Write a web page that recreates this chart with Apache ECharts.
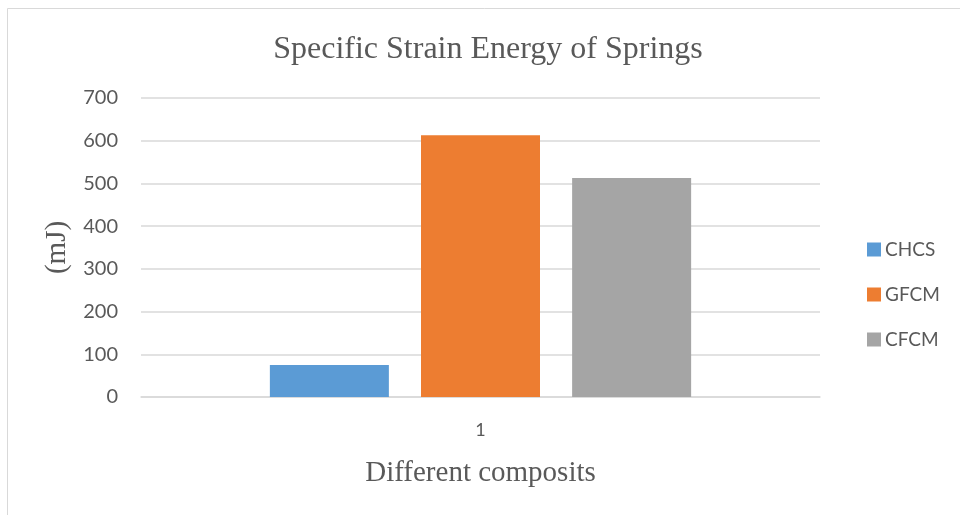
<!DOCTYPE html>
<html>
<head>
<meta charset="utf-8">
<script src="https://cdn.jsdelivr.net/npm/echarts@6/dist/echarts.min.js"></script>
<style>
html,body{margin:0;padding:0;background:#fff;}
#chart{width:960px;height:515px;}
</style>
</head>
<body>
<div id="chart"></div>
<script>
var categories = ['1'];
var seriesNames = ['CHCS', 'GFCM', 'CFCM'];
var chcsValues = [75];
var gfcmValues = [613];
var cfcmValues = [513];
var yTicks = [0, 100, 200, 300, 400, 500, 600, 700];
var colors = ['#5B9BD5', '#ED7D31', '#A5A5A5'];

var textColor = '#595959';
var chart = echarts.init(document.getElementById('chart'), null, {renderer: 'canvas'});
var allValues = [chcsValues, gfcmValues, cfcmValues];
var series = seriesNames.map(function (name, i) {
  return {
    name: name,
    type: 'bar',
    data: allValues[i],
    barWidth: 119,
    barGap: '27%',
    itemStyle: {color: colors[i]}
  };
});

chart.setOption({
  animation: false,
  backgroundColor: '#ffffff',
  graphic: [{
    type: 'rect',
    shape: {x: 7.5, y: 8.5, width: 1000, height: 1000},
    style: {fill: 'none', stroke: '#D9D9D9', lineWidth: 1},
    silent: true
  }],
  title: {
    text: 'Specific Strain Energy of Springs',
    left: 483,
    textAlign: 'center',
    top: 29,
    textStyle: {fontFamily: 'Liberation Serif', fontSize: 32, fontWeight: 'normal', color: textColor}
  },
  legend: {
    orient: 'vertical',
    left: 862,
    top: 235,
    itemWidth: 14,
    itemHeight: 14,
    itemGap: 26,
    icon: 'rect',
    data: seriesNames,
    textStyle: {fontFamily: 'Lato', fontSize: 19, color: textColor, padding: [0, 0, 0, -1]}
  },
  grid: {left: 141, right: 140, top: 98, bottom: 118, containLabel: false},
  xAxis: {
    type: 'category',
    data: categories,
    name: 'Different composits',
    nameLocation: 'middle',
    nameGap: 62,
    nameTextStyle: {fontFamily: 'Liberation Serif', fontSize: 29, color: textColor},
    axisLine: {show: true, lineStyle: {color: '#D9D9D9', width: 1.5}},
    axisTick: {show: false},
    axisLabel: {fontFamily: 'Lato', fontSize: 18, color: textColor, margin: 24}
  },
  yAxis: {
    type: 'value',
    min: yTicks[0],
    max: yTicks[yTicks.length - 1],
    interval: 100,
    name: '(mJ)',
    nameLocation: 'middle',
    nameGap: 68,
    nameRotate: 90,
    nameTextStyle: {fontFamily: 'Liberation Serif', fontSize: 29, color: textColor},
    axisLine: {show: false},
    axisTick: {show: false},
    splitLine: {lineStyle: {color: '#D9D9D9', width: 1.5}},
    axisLabel: {fontFamily: 'Lato', fontSize: 20, color: textColor, margin: 23}
  },
  series: series
});
</script>
</body>
</html>
